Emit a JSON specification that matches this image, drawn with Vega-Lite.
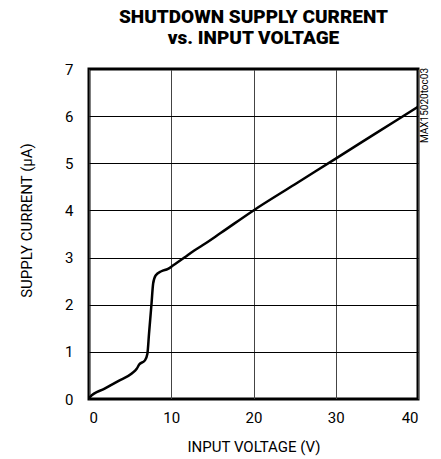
{
  "$schema": "https://vega.github.io/schema/vega-lite/v6.json",
  "width": 329,
  "height": 330,
  "autosize": {"type": "none"},
  "padding": {"left": 89, "top": 69, "right": 23, "bottom": 60},
  "background": "white",
  "title": {
    "text": ["SHUTDOWN SUPPLY CURRENT", "vs. INPUT VOLTAGE"],
    "font": "Roboto, sans-serif",
    "fontSize": 19,
    "fontWeight": 900,
    "lineHeight": 21,
    "color": "#000",
    "anchor": "middle",
    "frame": "group",
    "offset": 14
  },
  "config": {
    "view": {"stroke": "#000", "strokeWidth": 3},
    "axis": {
      "labelFont": "Roboto, sans-serif",
      "titleFont": "Roboto, sans-serif",
      "labelFontSize": 15,
      "titleFontSize": 15,
      "titleFontWeight": "normal",
      "labelColor": "#000",
      "titleColor": "#000",
      "domain": false,
      "ticks": false
    }
  },
  "data": {
    "values": [
      {"v": 0, "i": 0},
      {"v": 0.1, "i": 0.04},
      {"v": 1.9, "i": 0.22},
      {"v": 3.55, "i": 0.38},
      {"v": 5.2, "i": 0.54},
      {"v": 5.8, "i": 0.64},
      {"v": 6.1, "i": 0.73},
      {"v": 6.8, "i": 0.82},
      {"v": 7.1, "i": 0.96},
      {"v": 7.3, "i": 1.39},
      {"v": 7.6, "i": 2.02},
      {"v": 7.8, "i": 2.45},
      {"v": 8.1, "i": 2.62},
      {"v": 8.8, "i": 2.71},
      {"v": 9.6, "i": 2.76},
      {"v": 10.2, "i": 2.83},
      {"v": 11.6, "i": 3.0},
      {"v": 12.8, "i": 3.15},
      {"v": 13.8, "i": 3.26},
      {"v": 16, "i": 3.52},
      {"v": 20, "i": 4.0},
      {"v": 25, "i": 4.55},
      {"v": 30, "i": 5.1},
      {"v": 35, "i": 5.65},
      {"v": 40, "i": 6.2}
    ]
  },
  "layer": [
    {
      "mark": {"type": "line", "color": "#000", "strokeWidth": 2.5, "interpolate": "monotone", "clip": true},
      "encoding": {
        "x": {
          "field": "v", "type": "quantitative",
          "scale": {"domain": [0, 40], "nice": false},
          "axis": {
            "values": [0, 10, 20, 30, 40],
            "title": "INPUT VOLTAGE (V)",
            "grid": true, "gridColor": "#444", "gridWidth": 1, "gridOpacity": 1,
            "labelPadding": 11,
            "titlePadding": 14
          }
        },
        "y": {
          "field": "i", "type": "quantitative",
          "scale": {"domain": [0, 7], "nice": false},
          "axis": {
            "values": [0, 1, 2, 3, 4, 5, 6, 7],
            "title": "SUPPLY CURRENT (µA)",
            "grid": true, "gridColor": "#000", "gridWidth": 1, "gridOpacity": 1,
            "labelPadding": 16,
            "titleX": -63,
            "titleY": 151,
            "titleAlign": "center",
            "titleBaseline": "middle",
            "titleAngle": -90
          }
        }
      }
    },
    {
      "mark": {"type": "line", "opacity": 0},
      "encoding": {
        "x": {"field": "v", "type": "quantitative"},
        "y": {
          "field": "i", "type": "quantitative",
          "axis": {
            "orient": "right",
            "title": "MAX15020toc03",
            "titleFontSize": 10,
            "titleAngle": -90,
            "titleX": 6,
            "titleY": 36,
            "titleAlign": "center",
            "titleBaseline": "middle",
            "labels": false,
            "grid": false
          }
        }
      }
    }
  ],
  "resolve": {"axis": {"y": "independent"}}
}
